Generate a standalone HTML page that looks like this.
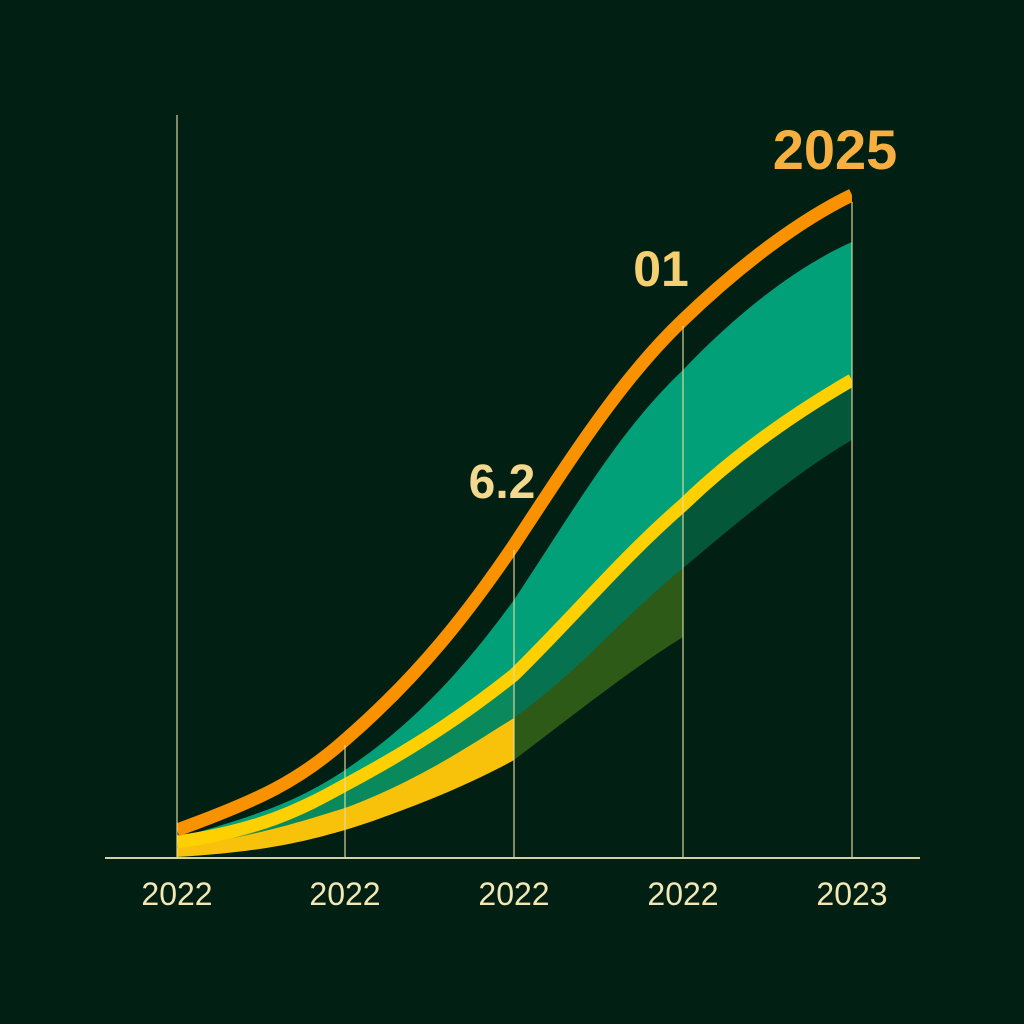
<!DOCTYPE html>
<html><head><meta charset="utf-8"><style>
html,body{margin:0;padding:0;background:#012013;}
svg{display:block}
</style></head><body>
<svg width="1024" height="1024" viewBox="0 0 1024 1024" xmlns="http://www.w3.org/2000/svg">
<defs>
<clipPath id="c1"><rect x="177" y="0" width="337" height="858"/></clipPath>
<clipPath id="c2"><rect x="514" y="0" width="169" height="858"/></clipPath>
<clipPath id="c3"><rect x="683" y="0" width="169" height="858"/></clipPath>
<clipPath id="call"><rect x="177" y="0" width="675" height="858"/></clipPath>
</defs>
<rect width="1024" height="1024" fill="#012013"/>
<g clip-path="url(#call)">
<path d="M177,838 C260,815 300,800 345,770 C420,720 470,660 514,600 C580,500 620,430 683,370 C740,310 800,265 852,242 L852,858 L177,858Z" fill="#02a078"/>
<g clip-path="url(#c1)"><path d="M177,842 C260,830 300,810 345,785 C420,745 470,710 514,675 L514,858 L177,858Z" fill="#0a8a5c"/></g>
<g clip-path="url(#c2)"><path d="M514,675 C580,610 620,560 683,505 L683,858 L514,858Z" fill="#077250"/></g>
<g clip-path="url(#c3)"><path d="M683,505 C740,450 800,410 852,380 L852,858 L683,858Z" fill="#05573a"/></g>
<g clip-path="url(#c1)"><path d="M177,848 C260,835 300,822 345,808 C420,780 470,745 514,718 L514,858 L177,858Z" fill="#f8c20a"/>
<path d="M177,857 C260,852 300,843 345,830 C400,813 470,785 514,760 L514,858 L177,858Z" fill="#012013"/></g>
<g clip-path="url(#c2)"><path d="M514,718 C580,670 620,620 683,568 L683,858 L514,858Z" fill="#2d5a17"/>
<path d="M514,760 C580,710 630,670 683,637 L683,858 L514,858Z" fill="#012013"/></g>
<g clip-path="url(#c3)"><path d="M683,568 C740,520 800,470 852,440 L852,858 L683,858Z" fill="#012013"/></g>
<path d="M177,842 C260,830 300,810 345,785 C420,745 470,710 514,675 C580,610 620,560 683,505 C740,450 800,410 852,380" fill="none" stroke="#fed000" stroke-width="13"/>
<path d="M177,830 C260,800 300,780 345,740 C420,675 470,610 514,545 C570,460 620,380 683,320 C740,265 800,220 852,195" fill="none" stroke="#fa9200" stroke-width="13"/>
</g>
<g stroke="#e6dca0" stroke-width="1.5" opacity="0.75">
<line x1="177" y1="115" x2="177" y2="858"/>
<line x1="345" y1="745" x2="345" y2="858"/>
<line x1="514" y1="550" x2="514" y2="858"/>
<line x1="683" y1="326" x2="683" y2="858"/>
<line x1="852" y1="202" x2="852" y2="858"/>
</g>
<line x1="105" y1="858" x2="920" y2="858" stroke="#d8d0a0" stroke-width="2"/>
<g font-family="Liberation Sans, sans-serif" fill="#f3e8b5" font-size="32" text-anchor="middle">
<text x="177" y="905">2022</text>
<text x="345" y="905">2022</text>
<text x="514" y="905">2022</text>
<text x="683" y="905">2022</text>
<text x="852" y="905">2023</text>
</g>
<g font-family="Liberation Sans, sans-serif" font-weight="bold">
<text x="835" y="169" font-size="56" fill="#f7b040" text-anchor="middle">2025</text>
<text x="661" y="286" font-size="50" fill="#f5d070" text-anchor="middle">01</text>
<text x="502" y="498" font-size="48" fill="#f3d890" text-anchor="middle">6.2</text>
</g>
</svg>
</body></html>
